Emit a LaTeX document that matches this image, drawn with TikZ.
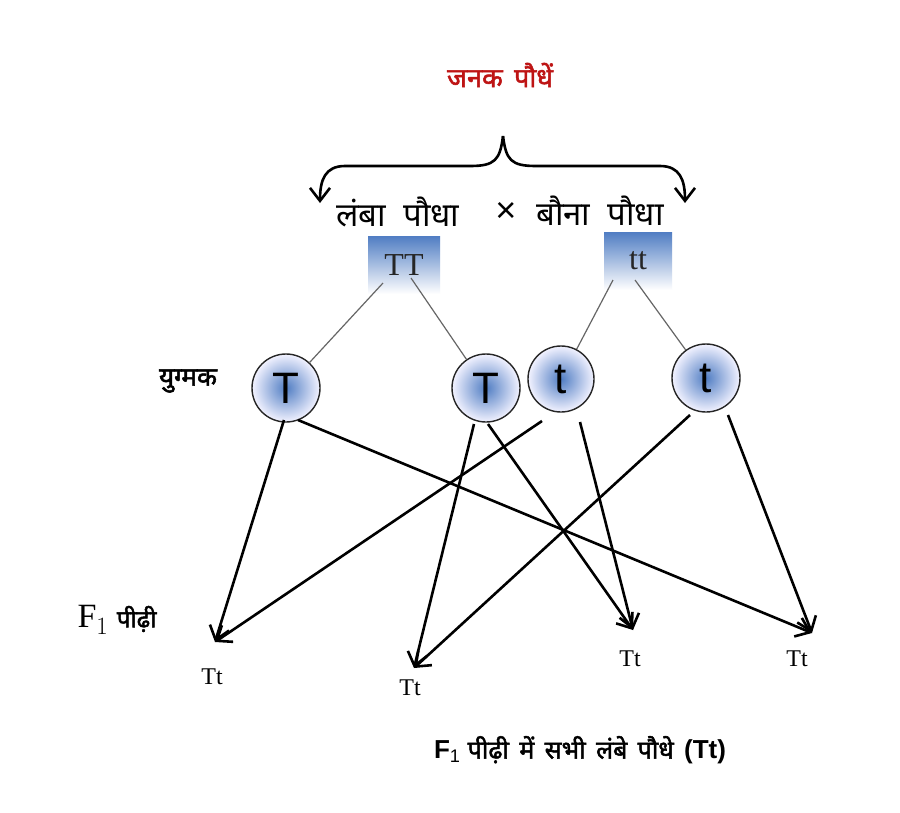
\documentclass[tikz,border=0pt]{standalone}
\usepackage{fontspec}
\setmainfont{Liberation Serif}
\newfontfamily\dev[Script=Devanagari,WordSpace=2]{Noto Sans}
\newfontfamily\devb[Script=Devanagari,FakeBold=2,WordSpace=1.6]{Noto Sans}
\newfontfamily\sans{Liberation Sans}
\usetikzlibrary{arrows.meta}
\definecolor{gblue}{RGB}{80,125,195}
\definecolor{dred}{RGB}{190,20,20}
\begin{document}
\begin{tikzpicture}[x=1pt,y=-1pt,
  geno/.style={draw=none,minimum width=72pt,minimum height=58pt,top color=gblue,bottom color=white,font=\fontsize{32}{34}\selectfont,text=black!85},
  gam/.style={circle,draw=black!85,line width=1.4pt,minimum size=68pt,inner color=gblue,outer color=blue!5,font=\sans\fontsize{44}{46}\selectfont},
  thin/.style={draw=black!60,line width=1.2pt},
  arr/.style={draw=black,line width=2.6pt,-{Straight Barb[length=13pt,width=20pt]}},
  lab/.style={font=\fontsize{24}{26}\selectfont},
  dv/.style={font=\dev\fontsize{33}{38}\selectfont}]
\useasboundingbox[fill=white] (0,0) rectangle (900,812);
\node[font=\devb\fontsize{27}{32}\selectfont,text=dred] (title) at (500,75) {जनक पौधें};
\coordinate (bl) at (320,203);
\coordinate (br) at (685,203);
\coordinate (btop) at (503,136);
\draw[line width=2.6pt,-{Straight Barb[length=13pt,width=20pt]}] (btop) .. controls (500,160) and (495,166) .. (470,166) -- (345,166) .. controls (325,166) and (320,180) .. (bl);
\draw[line width=2.6pt,-{Straight Barb[length=13pt,width=20pt]}] (btop) .. controls (506,160) and (511,166) .. (536,166) -- (660,166) .. controls (680,166) and (685,180) .. (br);
\node[dv] (tall) at (398,212) {लंबा पौधा};
\node[font=\sans\fontsize{36}{38}\selectfont] (x) at (506,212) {×};
\node[dv] (dwarf) at (600,211) {बौना पौधा};
\node[geno] (TT) at (404,265) {TT};
\node[geno,minimum width=68pt] (tt) at (638,261) {tt};
\node[gam] (g1) at (286,388) {T};
\node[gam] (g2) at (486,388) {T};
\node[gam,minimum size=66pt] (g3) at (561,379) {t};
\node[gam] (g4) at (706,378) {t};
\draw[thin] (383,283) -- (g1);
\draw[thin] (411,278) -- (g2);
\draw[thin] (613,280) -- (g3);
\draw[thin] (635,280) -- (g4);
\node[font=\devb\fontsize{26}{30}\selectfont] (yug) at (188,381) {युग्मक};
\node[anchor=west] (f1) at (74,620) {\fontsize{34}{36}\selectfont F$_{\fontsize{26}{28}\selectfont 1}$ \devb\fontsize{24}{28}\selectfont पीढ़ी};
\node[lab] (o1) at (212,677) {Tt};
\node[lab] (o2) at (410,688) {Tt};
\node[lab] (o3) at (630,659) {Tt};
\node[lab] (o4) at (797,659) {Tt};
\coordinate (a1) at (215,642);
\coordinate (a2) at (414,668);
\coordinate (a3) at (633,630);
\coordinate (a4) at (812,633);
\draw[arr] (284,420) -- (a1);
\draw[arr] (298,420) -- (a4);
\draw[arr] (474,424) -- (a2);
\draw[arr] (488,424) -- (a3);
\draw[arr] (542,421) -- (a1);
\draw[arr] (580,422) -- (a3);
\draw[arr] (690,415) -- (a2);
\draw[arr] (728,415) -- (a4);
\node (bottom) at (580,750) {\sans\bfseries\fontsize{26}{30}\selectfont F\textsubscript{\mdseries 1} \devb\fontsize{25}{30}\selectfont पीढ़ी में सभी लंबे पौधे \sans\bfseries\fontsize{26}{30}\selectfont (Tt)};
\end{tikzpicture}
\end{document}
